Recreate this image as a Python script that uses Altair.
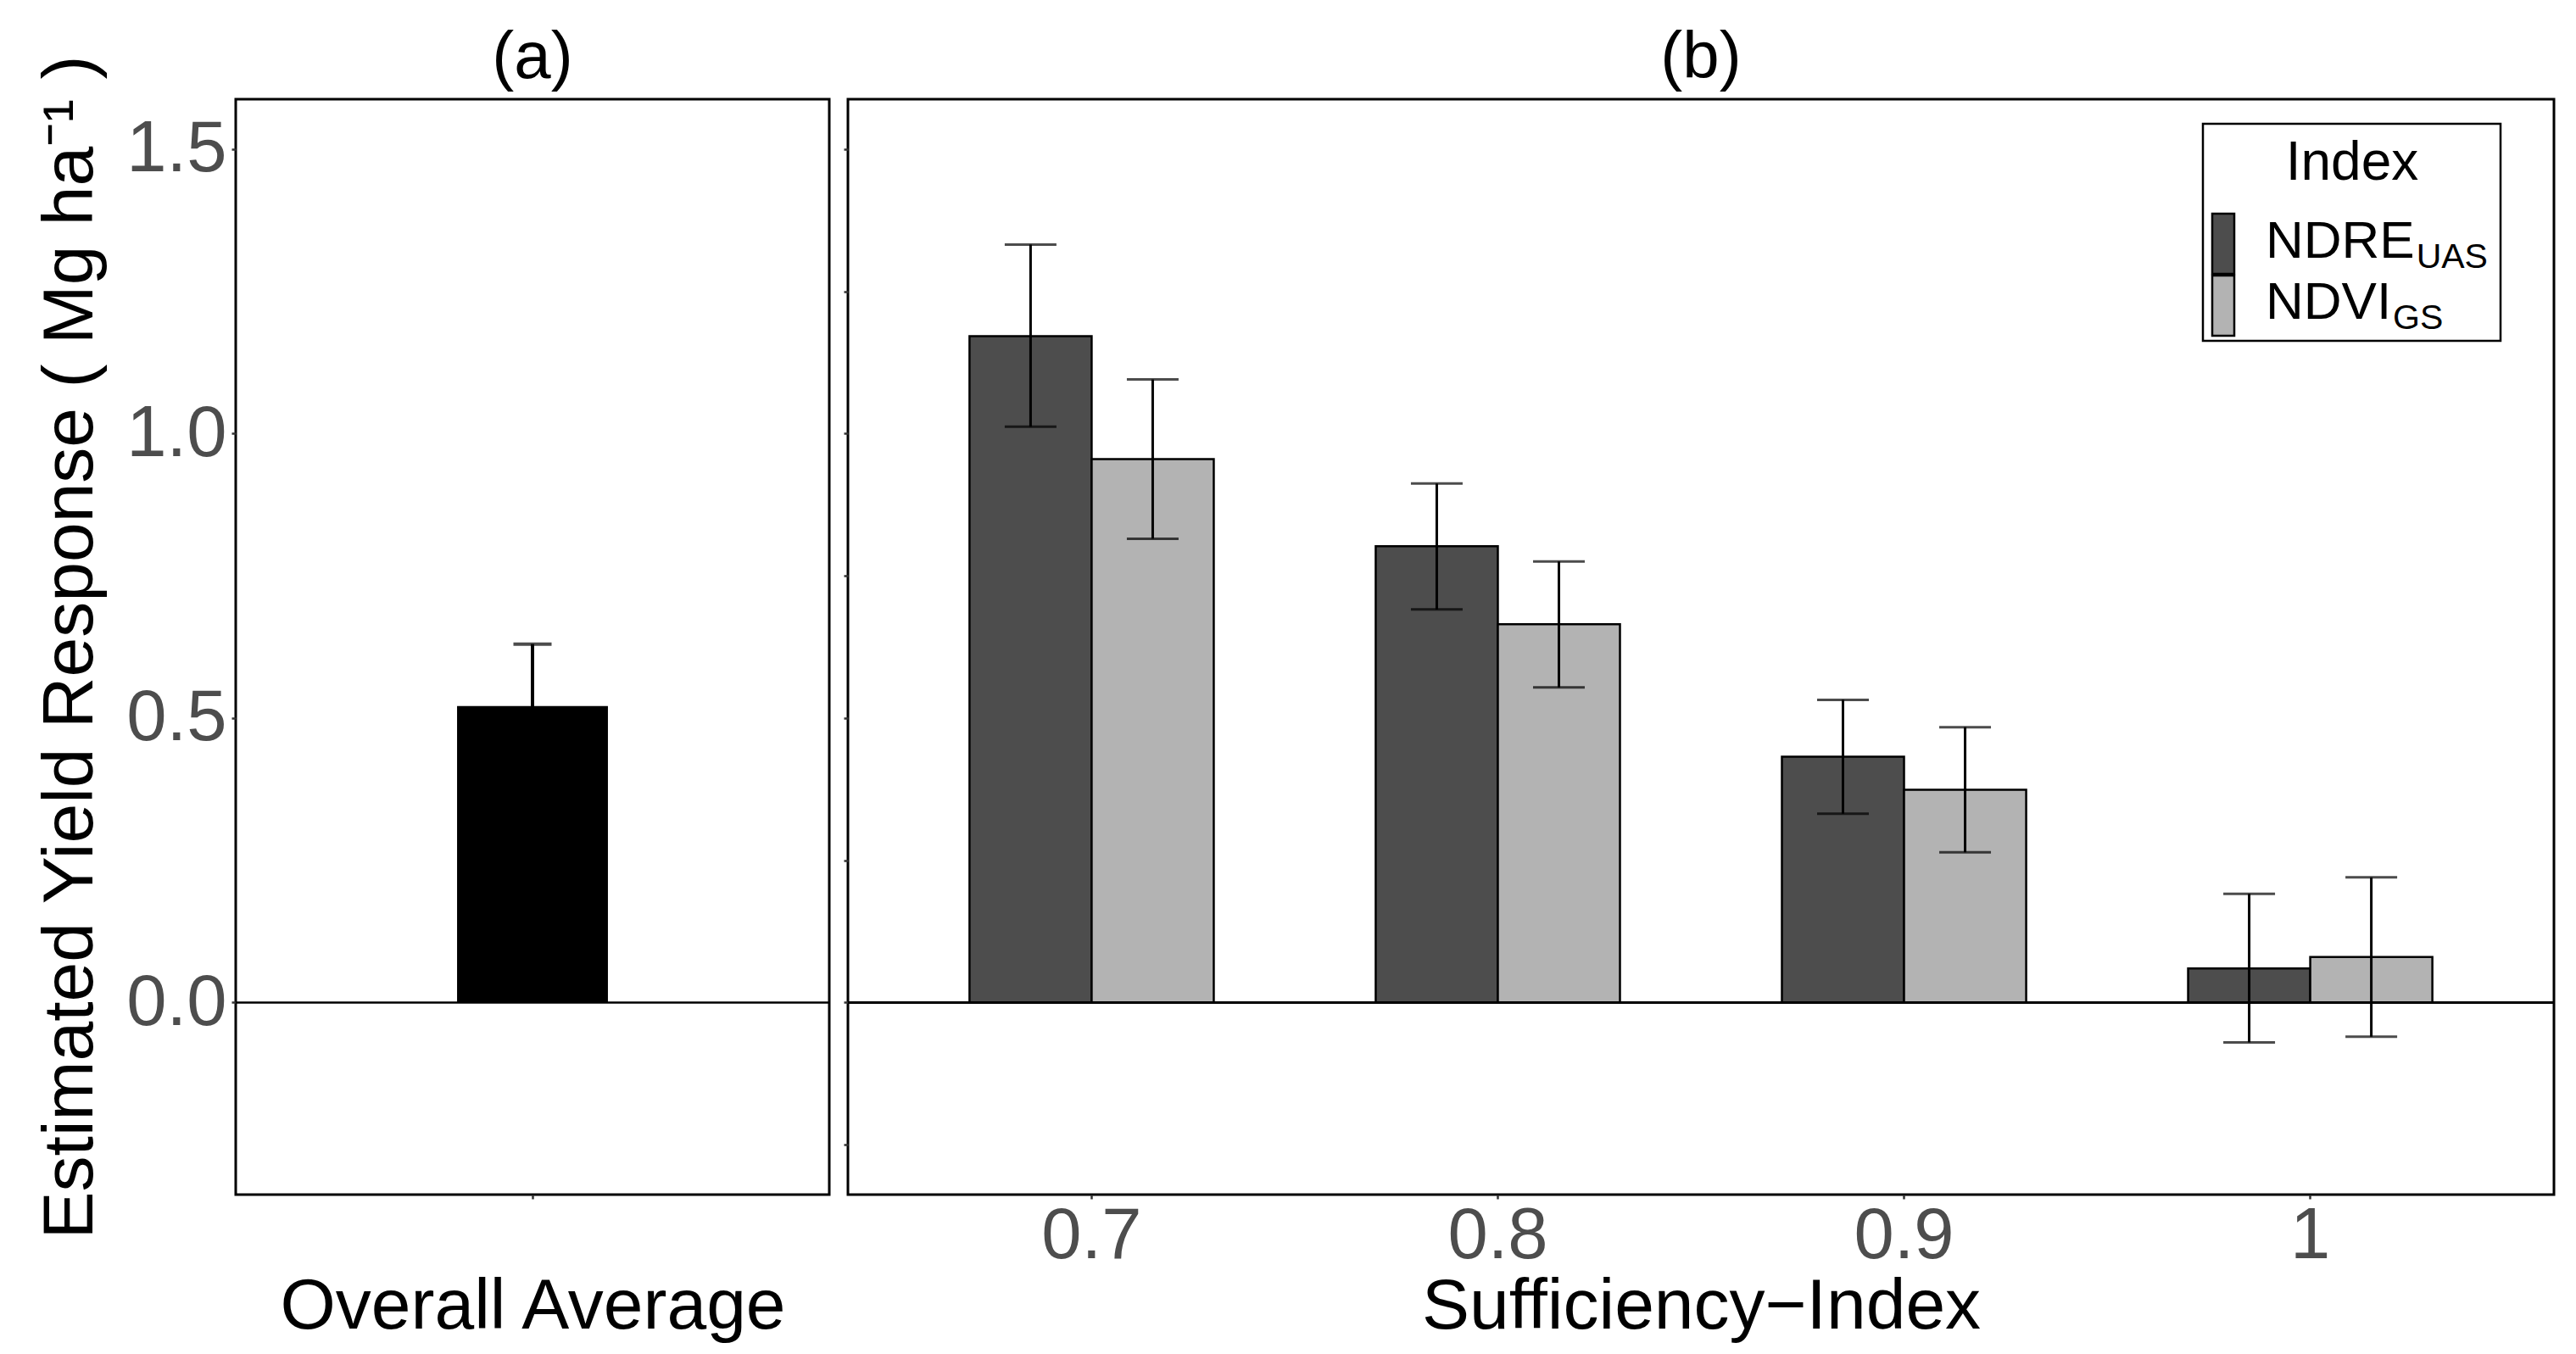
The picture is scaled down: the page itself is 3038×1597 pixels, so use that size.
import altair as alt
import pandas as pd

# ---------------- data ----------------
si_levels = ["0.7", "0.8", "0.9", "1"]
index_names = ["NDRE_UAS", "NDVI_GS"]
index_colors = ["#4D4D4D", "#B3B3B3"]

ndre_est = [1.171, 0.802, 0.432, 0.060]
ndre_lo = [1.012, 0.691, 0.332, -0.070]
ndre_hi = [1.332, 0.912, 0.532, 0.191]

ndvi_est = [0.955, 0.665, 0.374, 0.080]
ndvi_lo = [0.815, 0.554, 0.264, -0.060]
ndvi_hi = [1.095, 0.775, 0.484, 0.220]

overall_label = ["Overall Average"]
overall_est = [0.521]
overall_lo = [0.412]
overall_hi = [0.630]

panel_titles = ["(a)", "(b)"]
legend_title = "Index"
legend_main = ["NDRE", "NDVI"]
legend_sub = ["UAS", "GS"]

y_ticks_a = [0.0, 0.5, 1.0, 1.5]
y_ticks_b = [-0.25, 0.0, 0.25, 0.5, 0.75, 1.0, 1.25, 1.5]
Y_DOMAIN = [-0.3375, 1.5875]

# ---------------- styling ----------------
FONT = "Liberation Sans"
A_W, B_W, H = 700, 2012, 1292
LABEL_FS = 85
TITLE_FS = 84
PANEL_FS = 78
TICK_COLOR = "#333333"
LABEL_COLOR = "#4D4D4D"
X_TITLE_PAD = 0
PANEL_TITLE_Y = -25

df_a = pd.DataFrame({"Group": overall_label, "est": overall_est,
                     "lo": overall_lo, "hi": overall_hi})

rows = []
for i, s in enumerate(si_levels):
    rows.append({"SI": s, "Index": index_names[0], "est": ndre_est[i],
                 "lo": ndre_lo[i], "hi": ndre_hi[i]})
    rows.append({"SI": s, "Index": index_names[1], "est": ndvi_est[i],
                 "lo": ndvi_lo[i], "hi": ndvi_hi[i]})
df_b = pd.DataFrame(rows)

yscale = alt.Scale(domain=Y_DOMAIN, nice=False, zero=False)
one = pd.DataFrame({"k": [0]})


def panel_title(text, width):
    return alt.Chart(one).mark_text(
        text=text, font=FONT, fontSize=PANEL_FS, align="center",
        baseline="alphabetic", color="black").encode(
        x=alt.value(width / 2), y=alt.value(PANEL_TITLE_Y))


def x_axis(title, **kw):
    return alt.Axis(title=title, labelAngle=0, tickSize=5,
                    tickColor=TICK_COLOR, tickWidth=2.5, domain=False,
                    bandPosition=0.5, labelFontSize=LABEL_FS,
                    labelColor=LABEL_COLOR, labelFont=FONT, labelPadding=2,
                    titleFontSize=TITLE_FS, titleFont=FONT,
                    titleFontWeight="normal", titleColor="black",
                    titlePadding=X_TITLE_PAD, **kw)


# ---------------- panel (a) ----------------
xa = alt.X("Group:N",
           scale=alt.Scale(paddingInner=0, paddingOuter=0.1),
           axis=x_axis("Overall Average", labelExpr="' '"))
ya = alt.Y("est:Q", scale=yscale,
           axis=alt.Axis(values=y_ticks_a, format=".1f",
                         title="Estimated Yield Response ( Mg ha\u207b\u00b9 )",
                         grid=False, domain=False, tickSize=5,
                         tickColor=TICK_COLOR, tickWidth=2.5,
                         labelFontSize=LABEL_FS, labelColor=LABEL_COLOR,
                         labelFont=FONT, labelPadding=6,
                         titleFontSize=TITLE_FS, titleFont=FONT,
                         titleFontWeight="normal", titleColor="black",
                         titlePadding=22, titleY=646))

base_a = alt.Chart(df_a)
bar_a = base_a.mark_bar(color="black", width=alt.RelativeBandSize(0.305)).encode(
    x=xa, y=ya, y2=alt.datum(0))
zero_a = base_a.mark_rule(color="black", strokeWidth=2.5).encode(y=alt.datum(0))
err_a = base_a.mark_rule(color="black", strokeWidth=4).encode(
    x="Group:N", y="lo:Q", y2="hi:Q")
caplo_a = base_a.mark_tick(color="black", thickness=4, size=45).encode(
    x="Group:N", y="lo:Q")
caphi_a = base_a.mark_tick(color="black", thickness=4, size=45).encode(
    x="Group:N", y="hi:Q")

panel_a = alt.layer(bar_a, zero_a, err_a, caplo_a, caphi_a,
                    panel_title(panel_titles[0], A_W)).properties(
    width=A_W, height=H)

# ---------------- panel (b) ----------------
xb = alt.X("SI:N", sort=si_levels,
           scale=alt.Scale(domain=si_levels, paddingInner=0, paddingOuter=0.1),
           axis=x_axis("Sufficiency\u2212Index"))
xo = alt.XOffset("Index:N",
                 scale=alt.Scale(domain=index_names, paddingInner=0,
                                 paddingOuter=0.663))
yb = alt.Y("est:Q", scale=yscale,
           axis=alt.Axis(values=y_ticks_b, labels=False, title=None,
                         grid=False, domain=False, tickSize=5,
                         tickColor=TICK_COLOR, tickWidth=2.5))
cb = alt.Color("Index:N", scale=alt.Scale(domain=index_names,
                                          range=index_colors), legend=None)

base_b = alt.Chart(df_b)
bars_b = base_b.mark_bar(stroke="black", strokeWidth=2.5).encode(
    x=xb, xOffset=xo, y=yb, y2=alt.datum(0), color=cb)
zero_b = base_b.mark_rule(color="black", strokeWidth=2.5).encode(y=alt.datum(0))
err_b = base_b.mark_rule(color="black", strokeWidth=3).encode(
    x="SI:N", xOffset="Index:N", y="lo:Q", y2="hi:Q")
caplo_b = base_b.mark_tick(color="black", thickness=3, size=61).encode(
    x="SI:N", xOffset="Index:N", y="lo:Q")
caphi_b = base_b.mark_tick(color="black", thickness=3, size=61).encode(
    x="SI:N", xOffset="Index:N", y="hi:Q")

# ---------------- manual legend (inside panel b) ----------------
LEG_X0, LEG_X1, LEG_Y0, LEG_Y1 = 1598, 1949, 29, 285
legend_layers = [
    alt.Chart(one).mark_rect(fill="white", stroke="black", strokeWidth=2.5).encode(
        x=alt.value(LEG_X0), x2=alt.value(LEG_X1),
        y=alt.value(LEG_Y0), y2=alt.value(LEG_Y1)),
    alt.Chart(one).mark_text(text=legend_title, font=FONT, fontSize=64,
                             align="center", baseline="alphabetic",
                             color="black").encode(
        x=alt.value(1774), y=alt.value(95)),
]
char_w = {"N": 0.722, "D": 0.722, "R": 0.722, "E": 0.667, "V": 0.667, "I": 0.278}
MAIN_FS, SUB_FS = 62, 41
for i, (m, s) in enumerate(zip(legend_main, legend_sub)):
    y_top = 135 + i * 73
    base_line = 187 + i * 72
    legend_layers.append(
        alt.Chart(one).mark_rect(fill=index_colors[i], stroke="black",
                                 strokeWidth=2.5).encode(
            x=alt.value(1609), x2=alt.value(1635),
            y=alt.value(y_top), y2=alt.value(y_top + 71)))
    legend_layers.append(
        alt.Chart(one).mark_text(text=m, font=FONT, fontSize=MAIN_FS,
                                 align="left", baseline="alphabetic",
                                 color="black").encode(
            x=alt.value(1672), y=alt.value(base_line)))
    wmain = sum(char_w[c] for c in m) * MAIN_FS
    legend_layers.append(
        alt.Chart(one).mark_text(text=s, font=FONT, fontSize=SUB_FS,
                                 align="left", baseline="alphabetic",
                                 color="black").encode(
            x=alt.value(1672 + wmain + 2), y=alt.value(base_line + 12)))

panel_b = alt.layer(bars_b, zero_b, err_b, caplo_b, caphi_b,
                    *legend_layers,
                    panel_title(panel_titles[1], B_W)).properties(
    width=B_W, height=H)

chart = alt.hconcat(panel_a, panel_b, spacing=11).properties(
    padding={"left": 32, "top": 20, "right": 5, "bottom": 0},
    background="white"
).configure_view(stroke="black", strokeWidth=3).configure_scale(
    bandPaddingInner=0)

chart.save("out.html", embed_options={"renderer": "svg", "actions": False})
